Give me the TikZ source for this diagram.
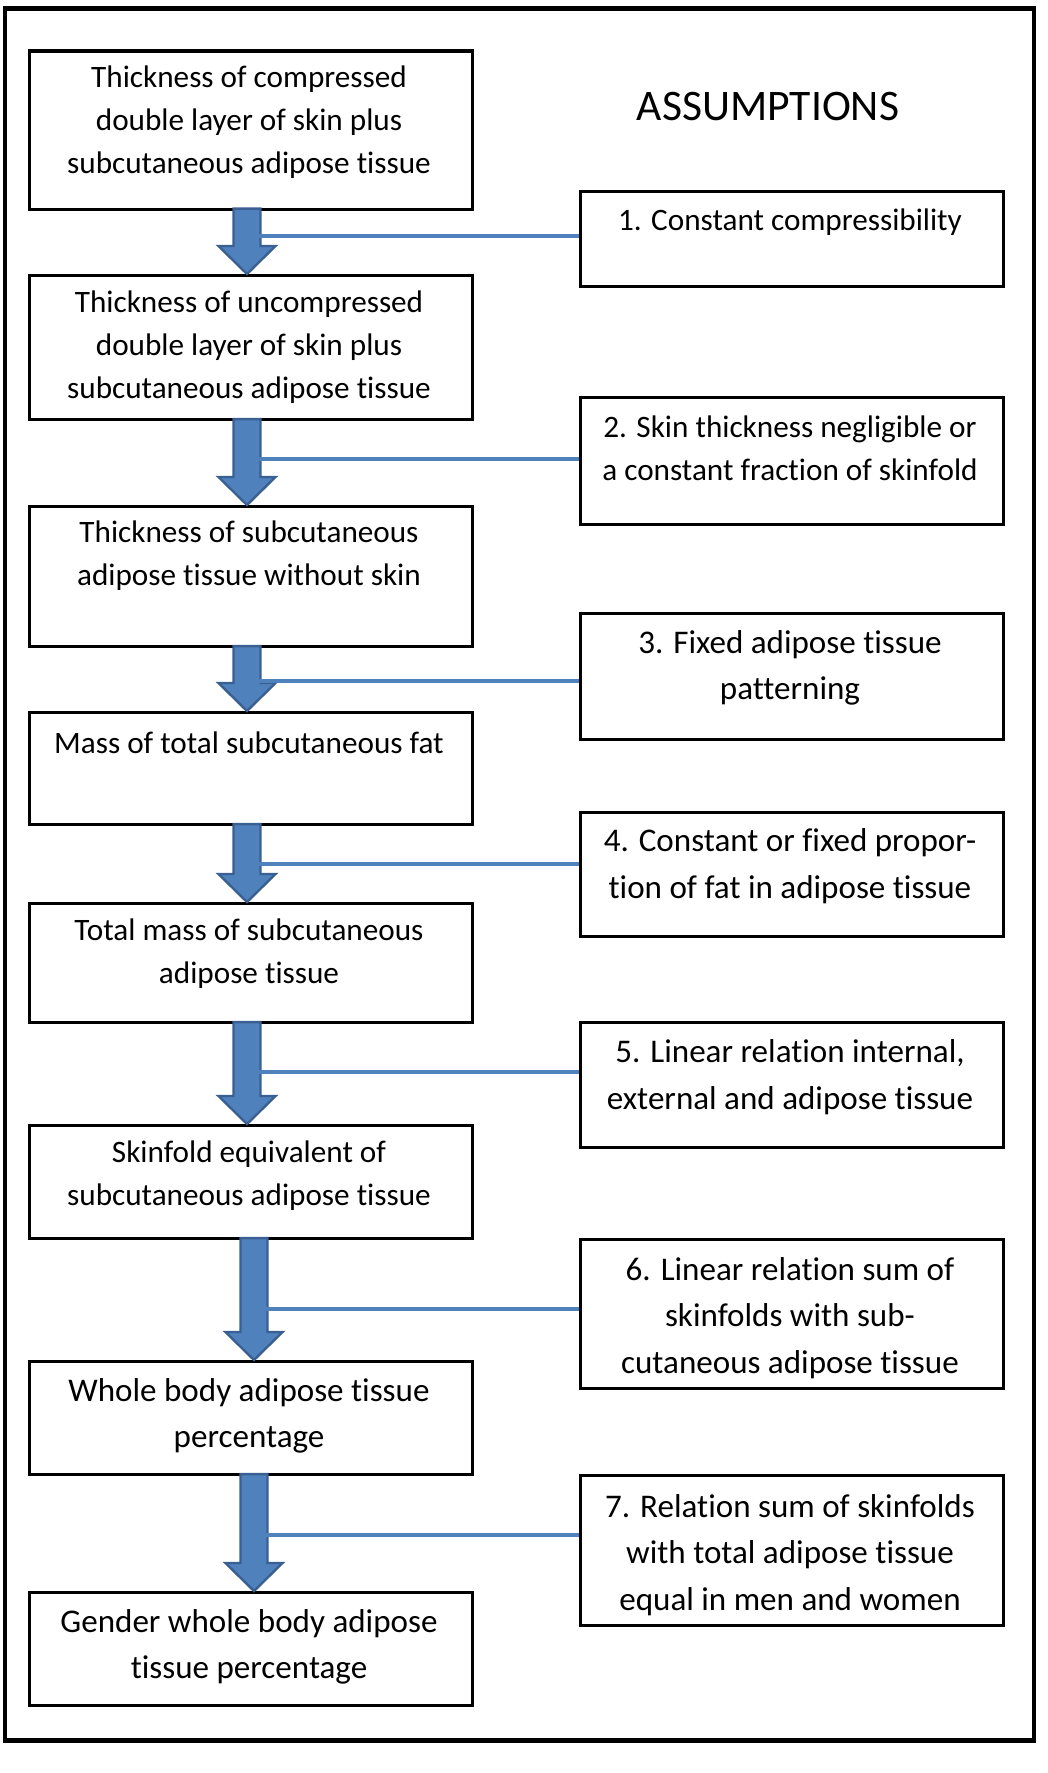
\documentclass[tikz,border=0pt]{standalone}
\usepackage{fontspec}
\setmainfont{Carlito}[Ligatures=NoCommon]
\usetikzlibrary{calc}
\definecolor{ablue}{HTML}{4F81BD}
\definecolor{dblue}{HTML}{3A6092}
\newcommand\flowarrow[3]{%
  \draw[barrow] let \p1=(#1.south), \p2=(#2.north) in
    ({#3*0.75pt-10.1pt},{\y1+1.5pt}) -- ({#3*0.75pt+10.1pt},{\y1+1.5pt})
    -- ({#3*0.75pt+10.1pt},{\y2+21pt}) -- ({#3*0.75pt+21.4pt},{\y2+21pt})
    -- ({#3*0.75pt},{\y2}) -- ({#3*0.75pt-21.4pt},{\y2+21pt})
    -- ({#3*0.75pt-10.1pt},{\y2+21pt}) -- cycle;}
\begin{document}
\begin{tikzpicture}[x=0.75pt,y=-0.75pt,
  box/.style={draw=black, line width=2.3pt, rectangle, inner sep=0pt, anchor=north west},
  lbox/.style={box, minimum width={443*0.75pt}},
  rbox/.style={box, minimum width={423*0.75pt}},
  ntext/.style={align=center, font=\fontsize{23.4pt}{32.3pt}\selectfont, inner sep=0pt},
  ltext/.style={align=center, font=\fontsize{24.8pt}{35pt}\selectfont, inner sep=0pt},
  conn/.style={draw=ablue, line width=3.2pt},
  barrow/.style={fill=ablue, draw=dblue, line width=1.8pt, line join=miter}]
\useasboundingbox (0,0) rectangle (1048,1773);
\node[draw, line width=3.4pt, minimum width={1029*0.75pt}, minimum height={1732*0.75pt}, anchor=north west, inner sep=0pt] (frame) at (2.5,6) {};
% left boxes
\node[lbox, minimum height={158*0.75pt}] (b1) at (27.5,49.5) {};
\node[lbox, minimum height={144*0.75pt}] (b2) at (27.5,274) {};
\node[lbox, minimum height={140*0.75pt}] (b3) at (27.5,505) {};
\node[lbox, minimum height={112*0.75pt}] (b4) at (27.5,711) {};
\node[lbox, minimum height={119*0.75pt}] (b5) at (27.5,902) {};
\node[lbox, minimum height={113*0.75pt}] (b6) at (27.5,1124) {};
\node[lbox, minimum height={113*0.75pt}] (b7) at (27.5,1360) {};
\node[lbox, minimum height={113*0.75pt}] (b8) at (27.5,1591) {};
% right boxes
\node[rbox, minimum height={95*0.75pt}] (r1) at (579,190) {};
\node[rbox, minimum height={127*0.75pt}] (r2) at (579,396) {};
\node[rbox, minimum height={126*0.75pt}] (r3) at (579,612) {};
\node[rbox, minimum height={124*0.75pt}] (r4) at (579,811) {};
\node[rbox, minimum height={125*0.75pt}] (r5) at (579,1021) {};
\node[rbox, minimum height={149*0.75pt}] (r6) at (579,1238) {};
\node[rbox, minimum height={150*0.75pt}] (r7) at (579,1474) {};
% texts
\node[font=\fontsize{32.7pt}{38pt}\selectfont] (title) at (768,107) {ASSUMPTIONS};
\node[ntext] (t1) at (249,122) {Thickness of compressed\\double layer of skin plus\\subcutaneous adipose tissue};
\node[ntext] (t2) at (249,347) {Thickness of uncompressed\\double layer of skin plus\\subcutaneous adipose tissue};
\node[ntext] (t3) at (249,556) {Thickness of subcutaneous\\adipose tissue without skin};
\node[ntext] (t4) at (249,743) {Mass of total subcutaneous fat};
\node[ntext] (t5) at (249,954) {Total mass of subcutaneous\\adipose tissue};
\node[ntext] (t6) at (249,1176) {Skinfold equivalent of\\subcutaneous adipose tissue};
\node[ltext] (t7) at (249,1416) {Whole body adipose tissue\\percentage};
\node[ltext] (t8) at (249,1647) {Gender whole body adipose\\tissue percentage};
\node[ntext] (s1) at (790,222) {1. Constant compressibility};
\node[ntext] (s2) at (790,448) {2. Skin thickness negligible or\\a constant fraction of skinfold};
\node[ltext] (s3) at (790,668) {3. Fixed adipose tissue\\patterning};
\node[ltext] (s4) at (790,866) {4. Constant or fixed propor-\\tion of fat in adipose tissue};
\node[ltext] (s5) at (790,1077) {5. Linear relation internal,\\external and adipose tissue};
\node[ltext] (s6) at (790,1318) {6. Linear relation sum of\\skinfolds with sub-\\cutaneous adipose tissue};
\node[ltext] (s7) at (790,1555) {7. Relation sum of skinfolds\\with total adipose tissue\\equal in men and women};
% block arrows
\flowarrow{b1}{b2}{247}
\flowarrow{b2}{b3}{247}
\flowarrow{b3}{b4}{247}
\flowarrow{b4}{b5}{247}
\flowarrow{b5}{b6}{247}
\flowarrow{b6}{b7}{254}
\flowarrow{b7}{b8}{254}
% connectors
\coordinate (j1) at (257,236);
\coordinate (j2) at (257,459);
\coordinate (j3) at (257,681);
\coordinate (j4) at (257,864);
\coordinate (j5) at (257,1072);
\coordinate (j6) at (264,1309);
\coordinate (j7) at (264,1535);
\draw[conn] (j1) -- (j1 -| r1.west);
\draw[conn] (j2) -- (j2 -| r2.west);
\draw[conn] (j3) -- (j3 -| r3.west);
\draw[conn] (j4) -- (j4 -| r4.west);
\draw[conn] (j5) -- (j5 -| r5.west);
\draw[conn] (j6) -- (j6 -| r6.west);
\draw[conn] (j7) -- (j7 -| r7.west);
\end{tikzpicture}
\end{document}
